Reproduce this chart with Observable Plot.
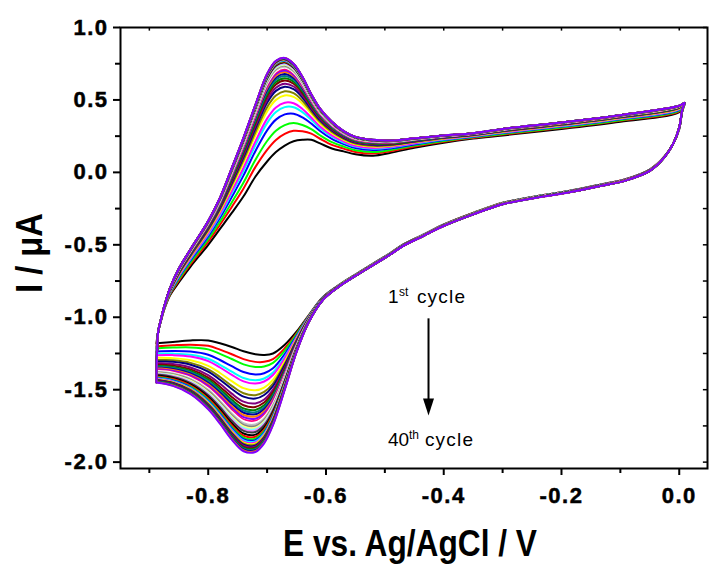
<!DOCTYPE html>
<html><head><meta charset="utf-8">
<script src="https://cdn.jsdelivr.net/npm/d3@7"></script>
<script src="https://cdn.jsdelivr.net/npm/@observablehq/plot@0.6"></script>
<style>body{margin:0;background:#fff;}</style>
</head><body><div id="chart"></div>
<script>
// ---- data ----
// anodic (forward) sweep potentials, V
const forwardE = [-0.888, -0.887, -0.885, -0.880, -0.875, -0.865, -0.850, -0.830, -0.800, -0.780, -0.760, -0.740, -0.720, -0.700, -0.685, -0.670, -0.655, -0.640, -0.625, -0.610, -0.590, -0.570, -0.550, -0.520, -0.490, -0.450, -0.400, -0.350, -0.300, -0.200, -0.100, 0.000, 0.009];
// 1st cycle current on the forward sweep, µA
const forwardI_first = [-1.18, -1.15, -1.10, -1.02, -0.95, -0.85, -0.76, -0.65, -0.50, -0.39, -0.28, -0.165, -0.03, 0.075, 0.14, 0.185, 0.215, 0.225, 0.225, 0.20, 0.165, 0.145, 0.125, 0.115, 0.135, 0.17, 0.205, 0.233, 0.255, 0.30, 0.35, 0.415, 0.47];
// 40th cycle current on the forward sweep, µA
const forwardI_last = [-1.451, -1.25, -1.10, -1.01, -0.93, -0.80, -0.665, -0.53, -0.335, -0.175, 0.03, 0.24, 0.465, 0.68, 0.77, 0.79, 0.75, 0.66, 0.54, 0.44, 0.35, 0.285, 0.245, 0.225, 0.22, 0.235, 0.255, 0.27, 0.30, 0.345, 0.395, 0.46, 0.48];
// cathodic (reverse) sweep potentials, V
const reverseE = [0.009, 0.005, 0.000, -0.010, -0.025, -0.050, -0.090, -0.135, -0.190, -0.250, -0.300, -0.350, -0.400, -0.435, -0.470, -0.490, -0.520, -0.550, -0.575, -0.605, -0.630, -0.650, -0.670, -0.690, -0.705, -0.720, -0.740, -0.760, -0.780, -0.800, -0.830, -0.860, -0.888];
const reverseI_first = [0.47, 0.42, 0.30, 0.20, 0.11, 0.02, -0.045, -0.085, -0.13, -0.17, -0.21, -0.28, -0.36, -0.43, -0.50, -0.555, -0.63, -0.705, -0.77, -0.86, -0.99, -1.10, -1.19, -1.25, -1.26, -1.255, -1.235, -1.205, -1.18, -1.16, -1.16, -1.17, -1.18];
const reverseI_last = [0.48, 0.43, 0.31, 0.20, 0.105, 0.01, -0.055, -0.095, -0.14, -0.18, -0.22, -0.29, -0.37, -0.44, -0.51, -0.565, -0.64, -0.715, -0.78, -0.88, -1.04, -1.24, -1.50, -1.745, -1.87, -1.93, -1.925, -1.845, -1.735, -1.635, -1.53, -1.474, -1.451];
// peak currents of each of the 40 cycles, µA
const anodicPeak = [0.224, 0.30, 0.357, 0.426, 0.473, 0.502, 0.549, 0.576, 0.605, 0.625, 0.645, 0.66, 0.675, 0.688, 0.70, 0.71, 0.72, 0.728, 0.735, 0.742, 0.748, 0.753, 0.758, 0.762, 0.766, 0.769, 0.772, 0.775, 0.777, 0.779, 0.781, 0.783, 0.784, 0.786, 0.787, 0.788, 0.789, 0.79, 0.791, 0.792];
const cathodicPeak = [-1.26, -1.313, -1.348, -1.40, -1.44, -1.463, -1.509, -1.543, -1.566, -1.60, -1.624, -1.645, -1.66, -1.675, -1.69, -1.705, -1.72, -1.732, -1.745, -1.757, -1.768, -1.778, -1.788, -1.797, -1.815, -1.83, -1.843, -1.853, -1.862, -1.87, -1.877, -1.884, -1.891, -1.898, -1.905, -1.911, -1.917, -1.923, -1.929, -1.935];
// tick values
const xMajor = [-0.8, -0.6, -0.4, -0.2, 0.0];
const xMinor = [-0.9, -0.7, -0.5, -0.3, -0.1];
const yMajor = [1.0, 0.5, 0.0, -0.5, -1.0, -1.5, -2.0];
const yMinor = [0.75, 0.25, -0.25, -0.75, -1.25, -1.75];

// Origin-style colour cycle
const palette = ["#000000","#FF0000","#00FF00","#0000FF","#00FFFF","#FF00FF","#FFFF00","#808000","#000080","#800080","#800000","#008000","#008080","#0000A0","#FF8000","#8000FF","#FF0080","#FFFFFF","#C0C0C0","#808080","#FFFF80","#80FFFF","#FF80FF","#404040"];

const cycles = anodicPeak.map((_, i) => i + 1);
const aSpan = anodicPeak[39] - anodicPeak[0];
const cSpan = cathodicPeak[39] - cathodicPeak[0];
const rows = [];
cycles.forEach((c, i) => {
  const wa = (anodicPeak[i] - anodicPeak[0]) / aSpan;
  const wc = (cathodicPeak[i] - cathodicPeak[0]) / cSpan;
  const color = palette[i % palette.length];
  forwardE.forEach((e, j) => rows.push({cycle: c, color, E: e, I: forwardI_first[j] + wa * (forwardI_last[j] - forwardI_first[j])}));
  reverseE.forEach((e, j) => rows.push({cycle: c, color, E: e, I: reverseI_first[j] + wc * (reverseI_last[j] - reverseI_first[j])}));
});

const xDomain = [-0.949, 0.048];
const yDomain = [-2.044, 1.0];

const plot = Plot.plot({
  width: 709, height: 567,
  marginLeft: 120, marginRight: 2, marginTop: 27, marginBottom: 99,
  x: {domain: xDomain},
  y: {domain: yDomain},
  color: {type: "identity"},
  style: {fontFamily: "'Liberation Sans', Arial, sans-serif", fontSize: "22px", fontWeight: "bold", background: "white", color: "black"},
  marks: [
    Plot.line(rows, {x: "E", y: "I", z: "cycle", stroke: "color", strokeWidth: 2, curve: "catmull-rom"}),
    Plot.frame({stroke: "black", strokeWidth: 2}),
    Plot.axisX(xMajor, {tickSize: 7, tickPadding: 12, tickFormat: d => d.toFixed(1), strokeWidth: 2, label: null}),
    Plot.axisX(xMinor, {tickSize: 5, tickFormat: () => "", strokeWidth: 2, label: null}),
    Plot.axisY(yMajor, {tickSize: 7, tickPadding: 5, tickFormat: d => d.toFixed(1), strokeWidth: 2, label: null}),
    Plot.axisY(yMinor, {tickSize: 5, tickFormat: () => "", strokeWidth: 2, label: null}),
    Plot.ruleX(xMajor.concat(xMinor), {x: d => d, y1: yDomain[1], y2: yDomain[1] - 0.025, stroke: "black", strokeWidth: 1.5}),
    Plot.ruleY(yMajor.concat(yMinor), {y: d => d, x1: xDomain[1], x2: xDomain[1] - 0.007, stroke: "black", strokeWidth: 1.5})
  ]
});
document.getElementById("chart").appendChild(plot);

const svg = d3.select(plot);
svg.selectAll('g[aria-label="x-axis tick label"] text, g[aria-label="y-axis tick label"] text')
  .style("font-weight", "bold").style("letter-spacing", "1.5px")
  .style("stroke", "black").style("stroke-width", "0.5px");

// axis titles
svg.append("text").text("E vs. Ag/AgCl / V")
  .attr("x", 283).attr("y", 556).attr("text-anchor", "start")
  .attr("font-size", 37).attr("font-weight", "bold")
  .attr("textLength", 254).attr("lengthAdjust", "spacingAndGlyphs");
svg.append("text").text("I / μA")
  .attr("transform", "translate(42,293) rotate(-90)").attr("text-anchor", "start")
  .attr("font-size", 37).attr("font-weight", "bold")
  .attr("textLength", 80).attr("lengthAdjust", "spacingAndGlyphs");

// annotation: 1st cycle -> 40th cycle
const sx = plot.scale("x"), sy = plot.scale("y");
const annE = -0.494, annTopI = -0.907, annBottomI = -1.889;
const arrowE = -0.425, arrowFromI = -1.011, arrowToI = -1.681;
function label(E, I, main, sup, gapSup, gapWord) {
  const x = sx.apply(E), y = sy.apply(I);
  const g = svg.append("g").attr("font-weight", "normal").attr("font-size", 19).attr("text-anchor", "start");
  g.append("text").attr("x", x).attr("y", y).text(main);
  g.append("text").attr("x", x + gapSup).attr("y", y - 7).attr("font-size", 12).text(sup);
  g.append("text").attr("x", x + gapWord).attr("y", y).style("letter-spacing", "1.2px").text("cycle");
}
label(annE, annTopI, "1", "st", 11, 29);
label(annE, annBottomI, "40", "th", 21, 37);
const ax = sx.apply(arrowE), ay1 = sy.apply(arrowFromI), ay2 = sy.apply(arrowToI);
svg.append("line").attr("x1", ax).attr("x2", ax).attr("y1", ay1).attr("y2", ay2 - 15)
  .attr("stroke", "black").attr("stroke-width", 2);
svg.append("path").attr("d", `M${ax - 5.5},${ay2 - 17}L${ax + 5.5},${ay2 - 17}L${ax},${ay2}Z`).attr("fill", "black");
</script>
</body></html>
